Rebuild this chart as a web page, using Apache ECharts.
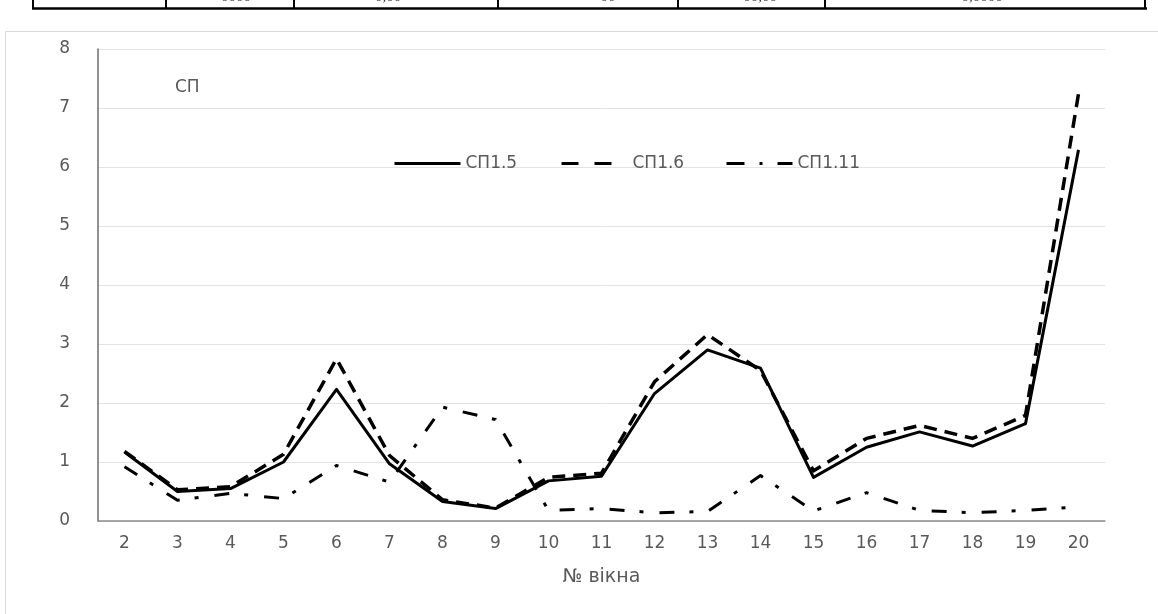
<!DOCTYPE html>
<html>
<head>
<meta charset="utf-8">
<script src="https://cdn.jsdelivr.net/npm/echarts@6/dist/echarts.min.js"></script>
<style>
html,body{margin:0;padding:0;background:#fff;}
#chart{width:1158px;height:614px;}
</style>
</head>
<body>
<div id="chart"></div>
<script>
const categories = ['2','3','4','5','6','7','8','9','10','11','12','13','14','15','16','17','18','19','20'];
const sp15  = [1.17,0.50,0.55,1.00,2.23,0.97,0.33,0.21,0.68,0.76,2.16,2.90,2.59,0.74,1.25,1.51,1.27,1.65,6.29];
const sp16  = [1.18,0.53,0.58,1.13,2.75,1.11,0.36,0.22,0.74,0.81,2.36,3.16,2.55,0.85,1.40,1.62,1.40,1.79,7.24];
const sp111 = [0.92,0.35,0.47,0.38,0.94,0.66,1.93,1.72,0.18,0.21,0.14,0.16,0.77,0.17,0.48,0.18,0.14,0.18,0.24];
const seriesNames = ['СП1.5','СП1.6','СП1.11'];
const yTicks = {min:0, max:8, interval:1};
const axisName = '№ вікна';
const cornerLabel = 'СП';
const tableCells = ['0000','0,00','00','00,00','0,0000'];

const FONT = 'DejaVu Sans';
const GRAY = '#595959';
const chart = echarts.init(document.getElementById('chart'), null, {renderer:'canvas'});

const tableX = [33,166,294,498,678,825,1145];
const cellTextX = [236,388,608,760,982];
const graphics = [
  {type:'rect', shape:{x:5.5,y:31.5,width:1200,height:700}, style:{fill:'none',stroke:'#d9d9d9',lineWidth:1}, silent:true},
  {type:'line', shape:{x1:32,y1:8.5,x2:1147,y2:8.5}, style:{stroke:'#000',lineWidth:2.5}, silent:true}
];
tableX.forEach(x=>graphics.push({type:'line', shape:{x1:x,y1:0,x2:x,y2:9}, style:{stroke:'#000',lineWidth:2}, silent:true}));
tableCells.forEach((t,i)=>graphics.push({type:'text', x:cellTextX[i], y:-10, style:{text:t, font:'15px "Liberation Serif"', fill:'#333', align:'center', verticalAlign:'top'}, silent:true}));
graphics.push({type:'text', left:175, top:79, style:{text:cornerLabel, font:'17px "'+FONT+'"', fill:GRAY}, silent:true});

const lineStyles = [
  {color:'#000', width:3, type:'solid'},
  {color:'#000', width:3.5, type:[13,8]},
  {color:'#000', width:3, type:[15,15,4,16]}
];
const legendDash = ['solid',[17,16],[18,15,3,15]];
const legendLeft = [393,560,725];
const dataSets = [sp15, sp16, sp111];

chart.setOption({
  animation:false,
  backgroundColor:'#fff',
  graphic:graphics,
  legend: seriesNames.map((n,i)=>({
    data:[n], left:legendLeft[i], top:155, itemWidth:66, itemHeight:16, itemGap:0, padding:0,
    textStyle:{fontFamily:FONT, fontSize:17, color:GRAY},
    lineStyle:{type:legendDash[i], width:3, color:'#000', cap:'butt'},
    itemStyle:{color:'transparent', borderColor:'transparent', borderWidth:0, opacity:0},
    selectedMode:false
  })),
  grid:{left:98, right:53, top:49, bottom:93},
  xAxis:{
    type:'category', data:categories, boundaryGap:true,
    axisLine:{show:true, lineStyle:{color:'#8c8c8c', width:1.5}},
    axisTick:{show:false},
    axisLabel:{fontFamily:FONT, fontSize:17, color:GRAY, margin:14},
    name:axisName, nameLocation:'middle', nameGap:47,
    nameTextStyle:{fontFamily:FONT, fontSize:19, color:GRAY}
  },
  yAxis:{
    type:'value', min:yTicks.min, max:yTicks.max, interval:yTicks.interval,
    axisLine:{show:true, lineStyle:{color:'#6e6e6e', width:1.5}},
    axisTick:{show:false},
    axisLabel:{fontFamily:FONT, fontSize:17, color:GRAY, margin:28},
    splitLine:{lineStyle:{color:'#e3e3e3', width:1}}
  },
  series: seriesNames.map((n,i)=>({
    name:n, type:'line', data:dataSets[i], symbol:'none', smooth:false,
    lineStyle:Object.assign({cap:'butt', join:'round'}, lineStyles[i]),
    itemStyle:{color:'#000'},
    z: 3 - i
  }))
});
</script>
</body>
</html>
